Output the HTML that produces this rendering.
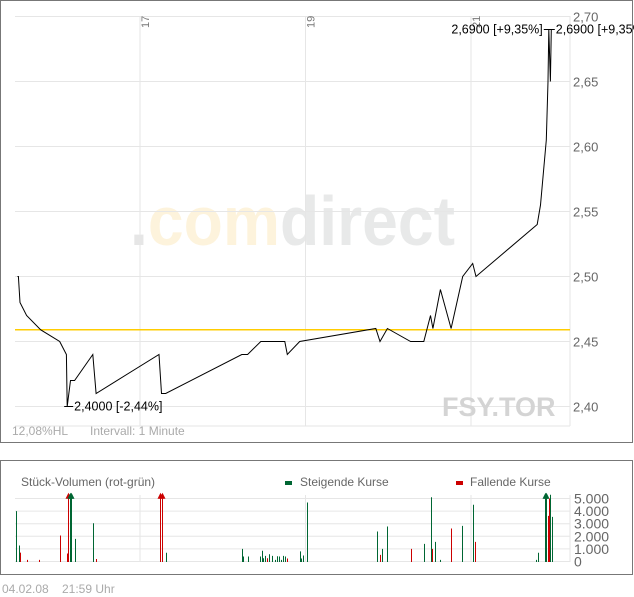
<!DOCTYPE html>
<html><head><meta charset="utf-8"><style>
html,body{margin:0;padding:0;background:#fff;width:634px;height:597px;overflow:hidden}
svg{display:block;font-family:"Liberation Sans",Arial,sans-serif}
</style></head><body>
<svg id="c" width="634" height="597" viewBox="0 0 634 597">
<rect x="0.5" y="0.5" width="632" height="442" fill="#fff" stroke="#777"/>
<text x="130" y="245" font-size="70" font-weight="bold" textLength="325" lengthAdjust="spacingAndGlyphs"><tspan fill="#e6e6e6">.</tspan><tspan fill="#fdf3dc">com</tspan><tspan fill="#e8e9e9">direct</tspan></text>
<g id="grid"></g>
<g id="price"></g>
<text x="442" y="416" font-size="27" font-weight="bold" fill="#d4d4d4">FSY.TOR</text>
<text x="12" y="435" font-size="12" fill="#aaa">12,08%HL</text>
<text x="90" y="435" font-size="12" fill="#aaa">Intervall: 1 Minute</text>
<rect x="0.5" y="460.5" width="632" height="114" fill="#fff" stroke="#777"/>
<text x="21" y="486" font-size="12" fill="#666">Stück-Volumen (rot-grün)</text>
<rect x="285" y="481" width="7" height="4" fill="#006633"/>
<text x="300" y="486" font-size="12" fill="#666">Steigende Kurse</text>
<rect x="456" y="481" width="7" height="4" fill="#cc0000"/>
<text x="470" y="486" font-size="12" fill="#666">Fallende Kurse</text>
<g id="vgrid"></g>
<g id="vol"></g>
<text x="2" y="593" font-size="12" fill="#aaa">04.02.08</text>
<text x="62" y="593" font-size="12" fill="#aaa">21:59 Uhr</text>
</svg>
<script>
const priceTicks=[2.40,2.45,2.50,2.55,2.60,2.65,2.70];
const priceTickLabels=["2,40","2,45","2,50","2,55","2,60","2,65","2,70"];
const timeTicks=[17,19,21];
const timeTickLabels=["17","19","21"];
const prevClose=2.459;
const priceTimes=[15.52,15.53,15.55,15.63,15.80,16.03,16.11,16.12,16.16,16.21,16.43,16.47,17.23,17.26,17.31,18.23,18.30,18.46,18.75,18.78,18.93,19.85,19.90,19.99,20.27,20.43,20.51,20.54,20.63,20.76,20.90,21.02,21.06,21.80,21.84,21.91,21.93,21.94,21.96,21.97,21.98];
const priceValues=[2.50,2.50,2.48,2.47,2.459,2.45,2.44,2.40,2.42,2.42,2.44,2.41,2.44,2.41,2.41,2.44,2.44,2.45,2.45,2.44,2.45,2.46,2.45,2.46,2.45,2.45,2.47,2.46,2.49,2.46,2.50,2.51,2.50,2.54,2.555,2.605,2.65,2.69,2.65,2.69,2.69];
const volTicks=[0,1000,2000,3000,4000,5000];
const volTickLabels=["0","1.000","2.000","3.000","4.000","5.000"];
const volTimes=[15.50,15.54,15.55,15.63,15.78,16.03,16.12,16.13,16.15,16.17,16.21,16.43,16.47,17.24,17.27,17.32,18.23,18.25,18.30,18.45,18.47,18.49,18.51,18.54,18.56,18.59,18.63,18.65,18.68,18.70,18.73,18.75,18.78,18.93,18.95,18.97,19.02,19.86,19.90,19.92,19.99,20.27,20.43,20.52,20.53,20.57,20.63,20.76,20.89,21.02,21.05,21.78,21.81,21.90,21.91,21.93,21.94,21.96,21.98];
const volValues=[4000,1270,700,130,130,2060,630,8000,8000,8000,1800,3040,200,8000,8000,690,1000,400,400,400,850,260,450,260,580,450,130,420,400,130,450,400,240,800,240,480,4680,2380,530,1000,2780,1000,1400,5100,1000,1560,130,2620,2830,4500,1560,130,690,8000,8000,3620,5000,5300,3540];
const volRising=[1,1,0,0,0,0,0,0,1,1,1,1,0,0,0,1,1,1,1,1,1,1,1,0,1,1,1,1,1,1,1,1,0,1,1,1,1,1,0,1,1,0,1,1,0,1,1,0,1,1,0,1,1,1,1,0,0,1,1];

const NS="http://www.w3.org/2000/svg";
const xT=t=>140+(t-17)*82.75;
const yP=v=>16.5+(2.70-v)*1300;
const yV=v=>561.5-v*0.0126;
function mk(p,tag,a){const e=document.createElementNS(NS,tag);for(const k in a)e.setAttribute(k,a[k]);p.appendChild(e);return e;}
const grid=document.getElementById('grid');
priceTicks.forEach((v,i)=>{
  const l=mk(grid,'line',{x1:15,x2:570,y1:yP(v),y2:yP(v),stroke:'#e6e6e6'});
  
  
  const t=mk(grid,'text',{x:573,y:yP(v)+5,'font-size':13,fill:'#666'});t.textContent=priceTickLabels[i];
  
  
});
mk(grid,'line',{x1:15,x2:570,y1:426,y2:426,stroke:'#e6e6e6'});
mk(grid,'line',{x1:570,x2:570,y1:16,y2:426,stroke:'#e6e6e6'});
timeTicks.forEach((h,i)=>{
  const l=mk(grid,'line',{x1:xT(h),x2:xT(h),y1:16,y2:426,stroke:'#e6e6e6'});
  
  
  const t=mk(grid,'text',{x:0,y:0,'font-size':11,fill:'#777',transform:`translate(${xT(h)+9},28) rotate(-90)`});t.textContent=timeTickLabels[i];
  
  
});
const pg=document.getElementById('price');
const pc=mk(pg,'line',{x1:15,x2:570,y1:yP(prevClose),y2:yP(prevClose),stroke:'#ffcc00','stroke-width':1.5});


const pts=priceTimes.map((t,i)=>xT(t).toFixed(1)+','+yP(priceValues[i]).toFixed(1)).join(' ');
const pl=mk(pg,'polyline',{points:pts,fill:'none',stroke:'#000','stroke-width':1});


let lo=0,hi=0;priceValues.forEach((v,i)=>{if(v<priceValues[lo])lo=i;if(v>priceValues[hi])hi=i;});
const lx=xT(priceTimes[lo]),ly=yP(priceValues[lo]);
mk(pg,'line',{x1:lx-3,x2:lx+6,y1:ly,y2:ly,stroke:'#000'});
const lt=mk(pg,'text',{x:lx+7,y:ly+4,'font-size':12.5,fill:'#000'});lt.textContent='2,4000 [-2,44%]';


const hx=xT(priceTimes[hi]),hy=yP(priceValues[hi]);
mk(pg,'line',{x1:hx-5,x2:hx+6,y1:hy,y2:hy,stroke:'#000'});
const ht=mk(pg,'text',{x:hx-6,y:hy+4,'font-size':12.5,fill:'#000','text-anchor':'end'});ht.textContent='2,6900 [+9,35%]';


const ht2=mk(pg,'text',{x:hx+7,y:hy+4,'font-size':12.5,fill:'#000'});ht2.textContent='2,6900 [+9,35%]';


const vg=document.getElementById('vgrid');
volTicks.forEach((v,i)=>{
  const l=mk(vg,'line',{x1:15,x2:570,y1:yV(v),y2:yV(v),stroke:'#e6e6e6'});
  
  
  const t=mk(vg,'text',{x:574,y:yV(v)+5,'font-size':14,fill:'#666'});t.textContent=volTickLabels[i];
  
  
});
timeTicks.forEach(h=>{mk(vg,'line',{x1:xT(h),x2:xT(h),y1:495,y2:562,stroke:'#e6e6e6'});});
mk(vg,'line',{x1:570,x2:570,y1:495,y2:562,stroke:'#e6e6e6'});
const vo=document.getElementById('vol');
const maxV=5300;
volTimes.forEach((t,i)=>{
  const x=Math.round(xT(t))+0.5,v=Math.min(volValues[i],maxV);
  const col=volRising[i]?'#006633':'#cc0000';
  const b=mk(vo,'line',{x1:x,x2:x,y1:562,y2:yV(v),stroke:col,'stroke-width':1});
  
  
  if(volValues[i]>maxV){
    const a=mk(vo,'polygon',{points:`${x-3},${yV(v)+4} ${x+3},${yV(v)+4} ${x},${yV(v)-2}`,fill:col});
    
    
  }
});
</script>
</body></html>
